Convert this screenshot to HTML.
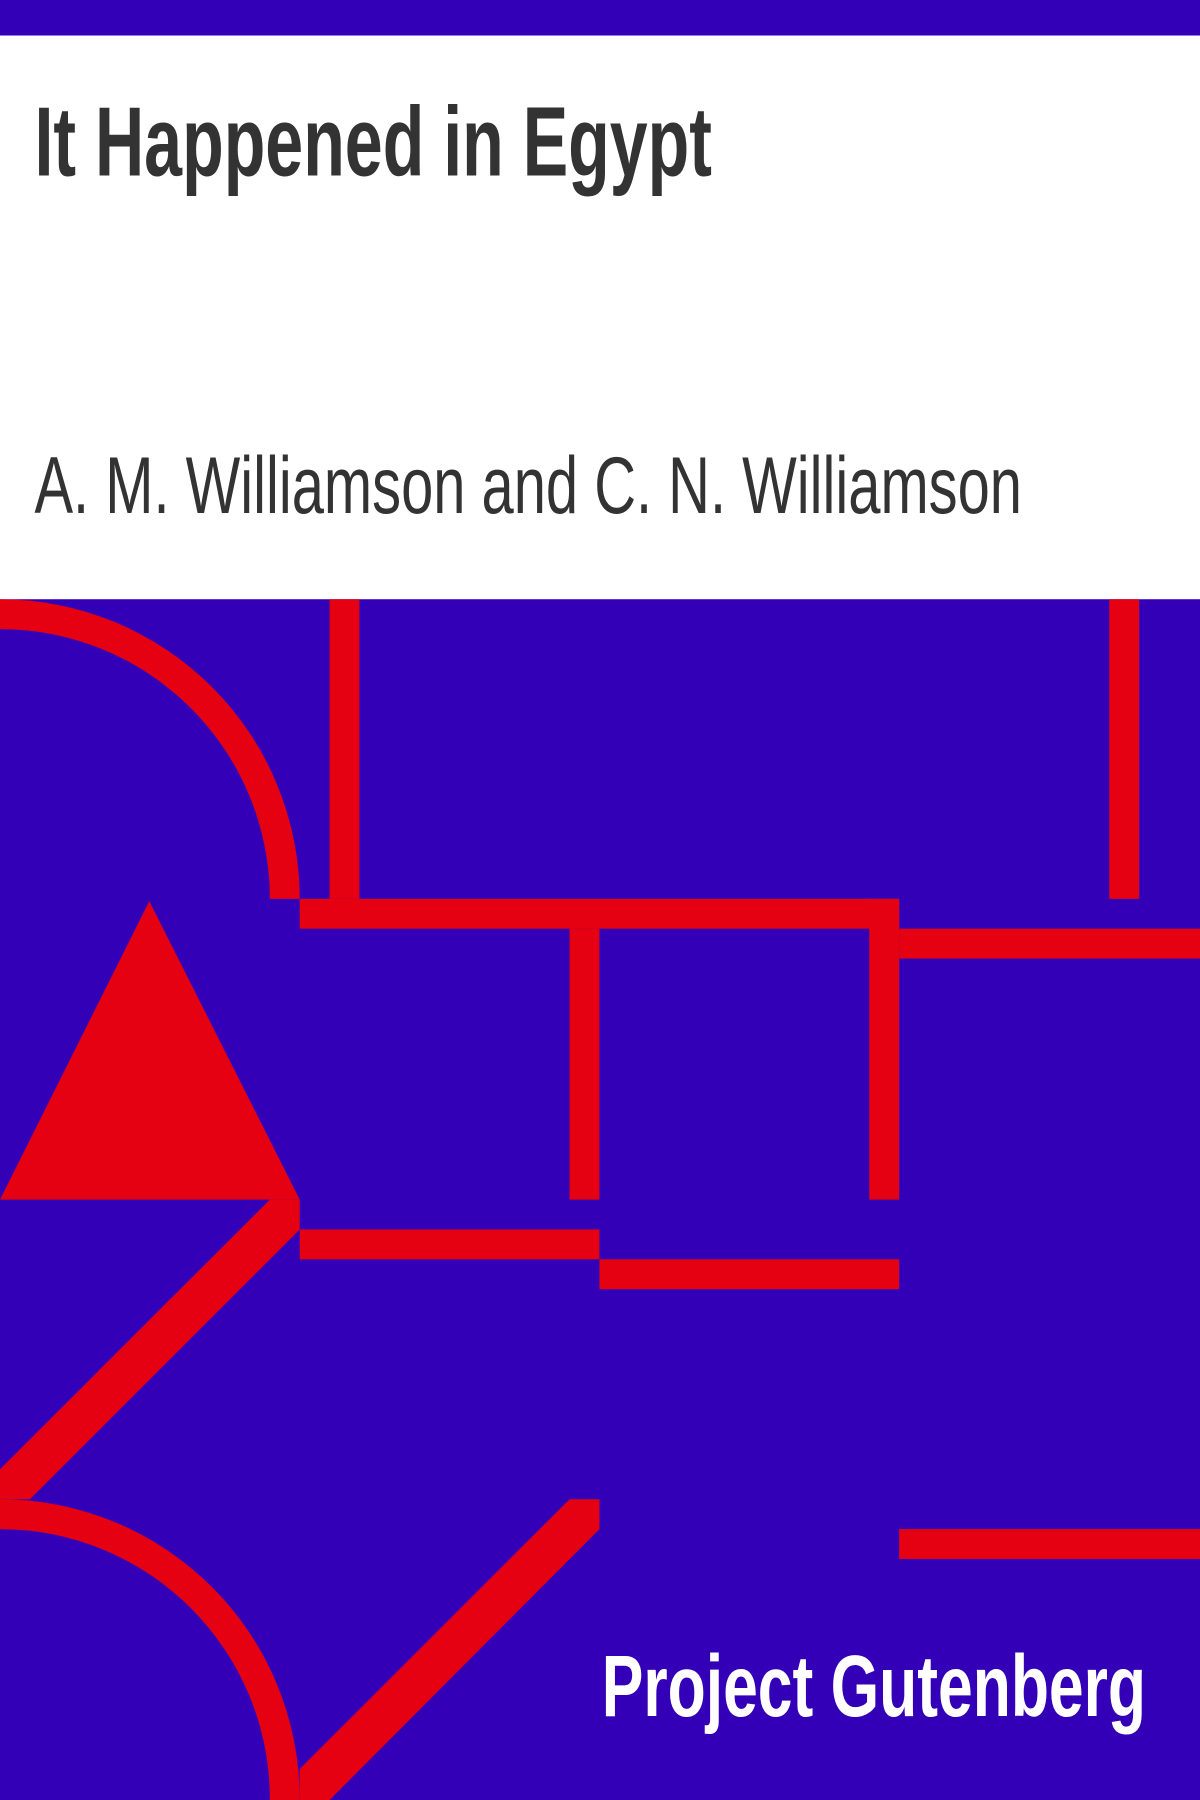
<!DOCTYPE html>
<html><head><meta charset="utf-8"><style>html,body{margin:0;padding:0;width:1200px;height:1800px;overflow:hidden;background:#fff}</style></head>
<body>
<svg width="1200" height="1800" viewBox="0 0 1045 1568" preserveAspectRatio="none" xmlns="http://www.w3.org/2000/svg">
<rect x="0" y="0" width="1045" height="31" fill="#3300b8"/>
<rect x="0" y="31" width="1045" height="491" fill="#fff"/>
<text x="30" y="153" font-family="'Liberation Sans Narrow','Liberation Sans',sans-serif" font-weight="bold" font-size="86" fill="#333" textLength="590" lengthAdjust="spacingAndGlyphs">It Happened in Egypt</text>
<text x="30" y="447" font-family="'Liberation Sans Narrow','Liberation Sans',sans-serif" font-size="70" fill="#333" textLength="860" lengthAdjust="spacingAndGlyphs">A. M. Williamson and C. N. Williamson</text>
<rect x="0" y="522" width="1045" height="1046" fill="#3300b8"/>
<g fill="#e50012">
<path d="M0,522 A261,261 0 0 1 261,783 L235,783 A235,235 0 0 0 0,548 Z"/>
<rect x="287" y="522" width="26" height="261"/>
<rect x="261" y="783" width="522" height="26"/>
<rect x="966" y="522" width="26" height="261"/>
<rect x="496" y="809" width="26" height="236"/>
<rect x="757" y="783" width="26" height="262"/>
<rect x="783" y="809" width="262" height="26"/>
<polygon points="130,785 0,1045 261,1045"/>
<rect x="261" y="1071" width="261" height="26"/>
<rect x="522" y="1097" width="261" height="26"/>
<polygon points="235,1045 261,1045 261,1071 26,1306 0,1306 0,1280"/>
<path d="M0,1306 A261,261 0 0 1 261,1568 L235,1568 A235,235 0 0 0 0,1332 Z"/>
<polygon points="496,1306 522,1306 522,1332 287,1568 261,1568 261,1541"/>
<rect x="783" y="1332" width="262" height="26"/>
</g>
<text x="524" y="1495" font-family="'Liberation Sans Narrow','Liberation Sans',sans-serif" font-weight="bold" font-size="76" fill="#fff" textLength="474" lengthAdjust="spacingAndGlyphs">Project Gutenberg</text>
</svg>
</body></html>
